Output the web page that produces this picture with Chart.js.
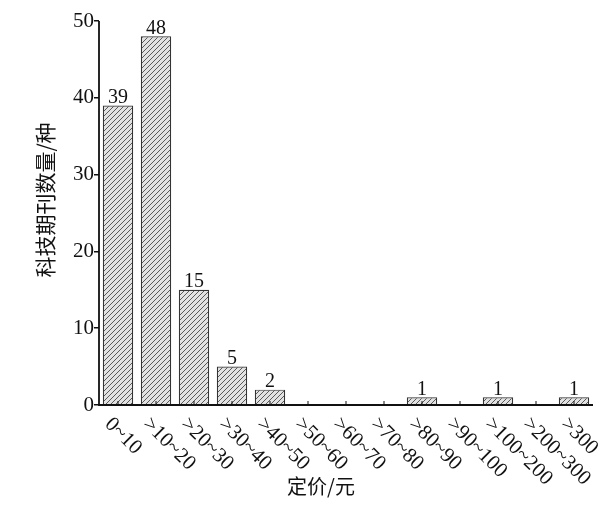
<!DOCTYPE html>
<html>
<head>
<meta charset="utf-8">
<script src="https://cdn.jsdelivr.net/npm/chart.js@4"></script>
<style>
  html, body { margin: 0; padding: 0; background: #fff; }
  #wrap { width: 608px; height: 505px; }
</style>
</head>
<body>
<div id="wrap"><canvas id="priceChart" width="608" height="505"></canvas></div>
<script>
// données
const categories = ["0~10", ">10~20", ">20~30", ">30~40", ">40~50", ">50~60", ">60~70",
                    ">70~80", ">80~90", ">90~100", ">100~200", ">200~300", ">300"];
const counts = [39, 48, 15, 5, 2, 0, 0, 0, 1, 0, 1, 0, 1];
const yTicks = [0, 10, 20, 30, 40, 50];

const serif = "'Liberation Serif', 'DejaVu Serif', serif";
const cjk = "'Noto Sans CJK SC', sans-serif";

// motif hachuré
function makeHatch() {
    const c = document.createElement("canvas");
    c.width = 5; c.height = 5;
    const g = c.getContext("2d");
    g.fillStyle = "#e2e2e2";
    g.fillRect(0, 0, 5, 5);
    g.strokeStyle = "#4a4a4a";
    g.lineWidth = 0.9;
    g.beginPath();
    g.moveTo(-1, 6); g.lineTo(6, -1);
    g.moveTo(-1, 1); g.lineTo(1, -1);
    g.moveTo(4, 6); g.lineTo(6, 4);
    g.stroke();
    return g.createPattern(c, "repeat");
}

const decorPlugin = {
    id: "decor",
    afterDraw(chart) {
        const ctx = chart.ctx;
        const x = chart.scales.x, y = chart.scales.y;
        const area = chart.chartArea;
        ctx.save();
        // axes
        ctx.strokeStyle = "#111";
        ctx.lineWidth = 1.8;
        ctx.beginPath();
        ctx.moveTo(area.left, area.top);
        ctx.lineTo(area.left, area.bottom);
        ctx.lineTo(area.right, area.bottom);
        ctx.stroke();
        // petits traits vers le haut au centre des catégories
        ctx.lineWidth = 1;
        categories.forEach((c, i) => {
            const px = x.getPixelForValue(i);
            ctx.beginPath();
            ctx.moveTo(px, area.bottom);
            ctx.lineTo(px, area.bottom - 4);
            ctx.stroke();
        });
        // étiquettes inclinées
        ctx.fillStyle = "#111";
        ctx.font = "21px " + serif;
        ctx.textAlign = "left";
        ctx.textBaseline = "middle";
        categories.forEach((c, i) => {
            const px = x.getPixelForValue(i);
            ctx.save();
            ctx.translate(px - 10, area.bottom + 16);
            ctx.rotate(Math.PI / 4);
            ctx.fillText(c, 0, 0);
            ctx.restore();
        });
        // valeurs au-dessus des barres
        ctx.textAlign = "center";
        ctx.textBaseline = "bottom";
        ctx.font = "20px " + serif;
        counts.forEach((v, i) => {
            if (v > 0) ctx.fillText(String(v), x.getPixelForValue(i), y.getPixelForValue(v) + 2);
        });
        // titres des axes
        ctx.font = "20px " + cjk;
        ctx.textBaseline = "middle";
        ctx.fillText("定价/元", 321, 486);
        ctx.save();
        ctx.translate(45, 200);
        ctx.rotate(-Math.PI / 2);
        ctx.font = "21px " + cjk;
        ctx.fillText("科技期刊数量/种", 0, 0);
        ctx.restore();
        ctx.restore();
    }
};

new Chart(document.getElementById("priceChart"), {
    type: "bar",
    data: {
        labels: categories,
        datasets: [{
            data: counts,
            backgroundColor: makeHatch(),
            borderColor: "#333",
            borderWidth: 1.2,
            borderSkipped: "bottom",
            barPercentage: 0.8,
            categoryPercentage: 1.0
        }]
    },
    options: {
        responsive: false,
        animation: false,
        layout: { padding: { top: 21, right: 15, left: 0, bottom: 0 } },
        plugins: { legend: { display: false }, tooltip: { enabled: false } },
        scales: {
            x: {
                afterFit: s => { s.height = 100; },
                grid: { display: false },
                border: { display: false },
                ticks: { display: false }
            },
            y: {
                min: 0, max: 50,
                afterFit: s => { s.width = 99; },
                afterBuildTicks: s => { s.ticks = yTicks.map(v => ({ value: v })); },
                grid: { drawOnChartArea: false, tickLength: 5, color: "#111", lineWidth: 1.5 },
                border: { display: false },
                ticks: {
                    color: "#111",
                    padding: 0,
                    font: { family: serif, size: 21 }
                }
            }
        }
    },
    plugins: [decorPlugin]
});
</script>
</body>
</html>
